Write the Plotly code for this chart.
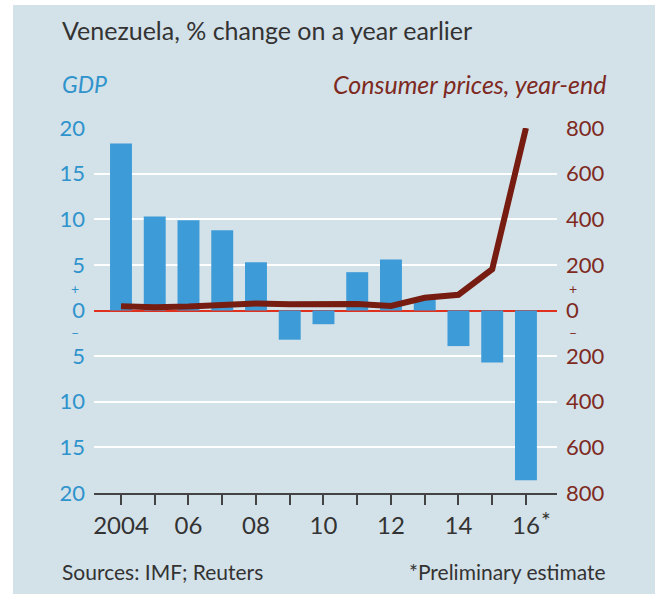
import plotly.graph_objects as go

years = list(range(2004, 2017))
gdp = [18.3, 10.3, 9.9, 8.8, 5.3, -3.2, -1.5, 4.2, 5.6, 1.3, -3.9, -5.7, -18.6]
cpi = [19, 14, 17, 22, 31, 27, 27, 28, 20, 56, 69, 181, 800]

left_vals = [-20, -15, -10, -5, 0, 5, 10, 15, 20]
left_text = ["20", "15", "10", "5", "0", "5", "10", "15", "20"]
right_vals = [-800, -600, -400, -200, 0, 200, 400, 600, 800]
right_text = ["800", "600", "400", "200", "0", "200", "400", "600", "800"]
x_text = ["2004", "", "06", "", "08", "", "10", "", "12", "", "14", "", "16"]

W, H = 660, 594
L, R, T, B = 94, 557, 128, 493
FONT = "Lato"
BG = "#d3e1e9"
BLUE = "#3d9cd8"
BLUE_T = "#2f93cc"
RED_T = "#7e2a1f"
LINE = "#761c10"
DARK = "#333333"


def px(x):
    return (x - L) / (R - L)


def py(y):
    return (B - y) / (B - T)


fig = go.Figure()
fig.add_trace(go.Bar(x=years, y=gdp, marker=dict(color=BLUE, line=dict(width=0)),
                     width=0.65, yaxis="y"))
fig.add_trace(go.Scatter(x=years, y=cpi, mode="lines", yaxis="y2",
                         line=dict(color=LINE, width=6)))

fig.update_layout(
    width=W, height=H,
    margin=dict(l=L, r=W - R, t=T, b=H - B, pad=0),
    paper_bgcolor="white",
    plot_bgcolor="rgba(0,0,0,0)",
    showlegend=False,
    font=dict(family=FONT, color=DARK),
    xaxis=dict(range=[2003.2, 2016.92], tickvals=years, ticktext=x_text,
               ticks="outside", ticklen=10, tickwidth=1.5, tickcolor="#444",
               showline=True, linecolor="#444", linewidth=1.5, showgrid=False,
               zeroline=False, tickfont=dict(size=24, color=DARK, family=FONT)),
    yaxis=dict(range=[-20, 20], tickvals=left_vals, ticktext=left_text,
               showgrid=True, gridcolor="white", gridwidth=2,
               zeroline=True, zerolinecolor="#e0301e", zerolinewidth=1.5,
               ticks="", ticklabelstandoff=8,
               tickfont=dict(size=22, color=BLUE_T, family=FONT)),
    yaxis2=dict(range=[-800, 800], tickvals=right_vals, ticktext=right_text,
                overlaying="y", side="right", showgrid=False, zeroline=False,
                ticks="", ticklabelstandoff=8,
                tickfont=dict(size=22, color=RED_T, family=FONT)),
)

fig.add_shape(type="rect", xref="paper", yref="paper", layer="below",
              x0=px(13), x1=px(655), y0=py(594), y1=py(5),
              fillcolor=BG, line=dict(width=0))


def ann(text, x, y, xanchor="left", size=22, color=DARK, italic=False):
    if italic:
        text = "<i>" + text + "</i>"
    fig.add_annotation(text=text, xref="paper", yref="paper", x=px(x), y=py(y),
                       xanchor=xanchor, yanchor="middle", showarrow=False,
                       font=dict(size=size, color=color, family=FONT))


ann("Venezuela, % change on a year earlier", 60, 30, size=25)
ann("GDP", 60, 84, size=23, color=BLUE_T, italic=True)
ann("Consumer prices, year-end", 608, 84, xanchor="right", size=25, color=RED_T, italic=True)
ann("Sources: IMF; Reuters", 60, 571, size=21)
ann("*Preliminary estimate", 608, 571, xanchor="right", size=21)
ann("+", 75, 288, xanchor="center", size=14, color=BLUE_T)
ann("–", 75, 332, xanchor="center", size=14, color=BLUE_T)
ann("+", 573, 288, xanchor="center", size=14, color=RED_T)
ann("–", 573, 332, xanchor="center", size=14, color=RED_T)
ann("*", 539, 520, xanchor="left", size=23)

fig.write_html("out.html")
